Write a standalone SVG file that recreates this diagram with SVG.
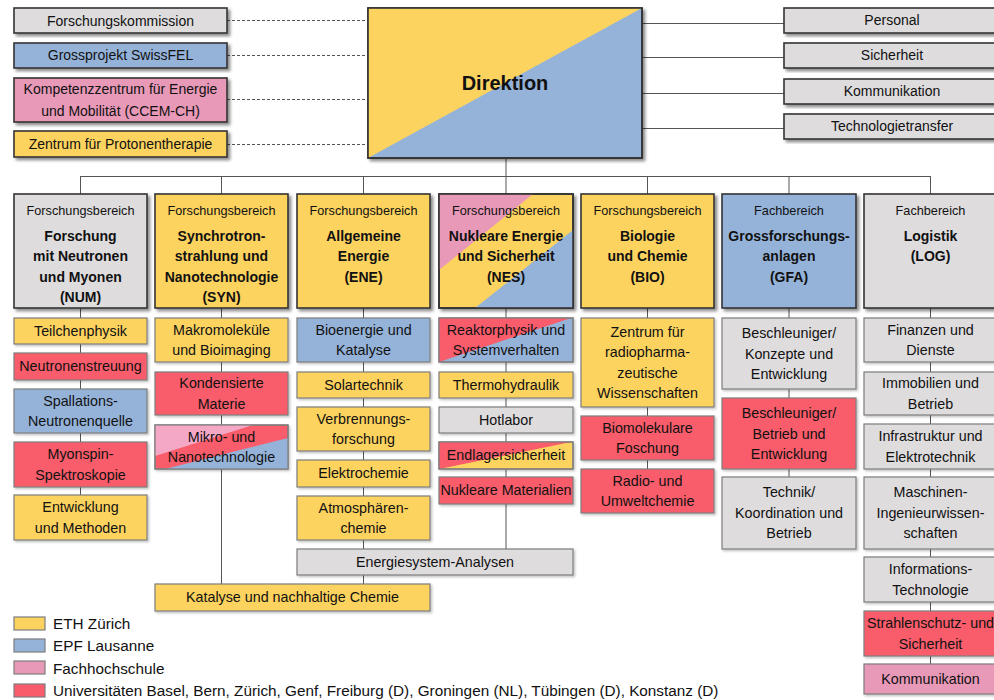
<svg xmlns="http://www.w3.org/2000/svg" width="994" height="700" viewBox="0 0 994 700">
<defs>
<filter id="sh" x="-10%" y="-10%" width="130%" height="130%"><feDropShadow dx="2.5" dy="2.5" stdDeviation="1.5" flood-color="#000" flood-opacity="0.45"/></filter>
<filter id="sh2" x="-10%" y="-10%" width="130%" height="130%"><feDropShadow dx="1.5" dy="1.5" stdDeviation="1" flood-color="#000" flood-opacity="0.25"/></filter>
</defs>
<style>
.ho{fill:none;stroke:#333;stroke-width:1.6}
.so{fill:none;stroke:#7d7d7d;stroke-width:1.2}
.y{fill:#FDD35F}.b{fill:#95B3D9}.p{fill:#E899B8}.lp{fill:#F4A8C6}.r{fill:#F95C6B}.g{fill:#DEDCDD}
.hd{stroke:#333;stroke-width:1.6;filter:url(#sh)}
.sb{stroke:#7d7d7d;stroke-width:1.2;filter:url(#sh2)}
.lb{stroke:#7d7d7d;stroke-width:1.2}
text{font-family:"Liberation Sans",Arial,sans-serif;fill:#111;text-anchor:middle}
.t{font-size:14.3px}
.tt{font-size:14px}
.hs{font-size:12.7px}
.hb{font-size:14px;font-weight:bold}
.lg{font-size:15.3px;text-anchor:start}
.cn{stroke:#555;stroke-width:1;fill:none}
.dc{stroke:#555;stroke-width:1;fill:none;stroke-dasharray:3,2}
</style>

<g id="connectors">
<line class="dc" x1="227" y1="20.5" x2="368" y2="20.5"/>
<line class="dc" x1="227" y1="55.5" x2="368" y2="55.5"/>
<line class="dc" x1="227" y1="99.5" x2="368" y2="99.5"/>
<line class="dc" x1="227" y1="144.5" x2="368" y2="144.5"/>
<line class="cn" x1="642" y1="23.5" x2="784" y2="23.5"/>
<line class="cn" x1="642" y1="57.5" x2="784" y2="57.5"/>
<line class="cn" x1="642" y1="93.5" x2="784" y2="93.5"/>
<line class="cn" x1="642" y1="128.5" x2="784" y2="128.5"/>
<line class="cn" x1="80.5" y1="176.5" x2="930.5" y2="176.5"/>
<line class="cn" x1="80.5" y1="176" x2="80.5" y2="495"/>
<line class="cn" x1="221.5" y1="176" x2="221.5" y2="584"/>
<line class="cn" x1="363.5" y1="176" x2="363.5" y2="584"/>
<line class="cn" x1="506" y1="158" x2="506" y2="549"/>
<line class="cn" x1="647.5" y1="176" x2="647.5" y2="469"/>
<line class="cn" x1="789" y1="176" x2="789" y2="477"/>
<line class="cn" x1="930.5" y1="176" x2="930.5" y2="664"/>
</g>

<g id="forschungskommission"><rect class="g hd" x="14" y="8" width="213" height="25"/><text class="tt" x="120.5" y="25.5">Forschungskommission</text></g>
<g id="swissfel"><rect class="b hd" x="14" y="43" width="213" height="25"/><text class="tt" x="120.5" y="60">Grossprojekt SwissFEL</text></g>
<g id="ccem"><rect class="p hd" x="14" y="78" width="213" height="44"/><text class="tt" x="120.5" y="94">Kompetenzzentrum für Energie</text><text class="tt" x="120.5" y="116">und Mobilität (CCEM-CH)</text></g>
<g id="protonentherapie"><rect class="y hd" x="14" y="131" width="213" height="26"/><text class="tt" x="120.5" y="149">Zentrum für Protonentherapie</text></g>

<g id="direktion">
<rect class="b hd" x="368" y="8" width="274" height="150"/>
<polygon class="y" points="368,8 642,8 368,158"/>
<rect class="ho" x="368" y="8" width="274" height="150"/>
<text x="505" y="90" style="font-size:20px;font-weight:bold">Direktion</text>
</g>

<g id="personal"><rect class="g hd" x="784" y="8" width="216" height="25"/><text class="tt" x="892" y="25">Personal</text></g>
<g id="sicherheit"><rect class="g hd" x="784" y="43" width="216" height="25"/><text class="tt" x="892" y="60">Sicherheit</text></g>
<g id="kommunikation-stab"><rect class="g hd" x="784" y="79" width="216" height="25"/><text class="tt" x="892" y="96">Kommunikation</text></g>
<g id="technologietransfer"><rect class="g hd" x="784" y="114" width="216" height="25"/><text class="tt" x="892" y="131">Technologietransfer</text></g>

<g id="num"><rect class="g hd" x="14" y="194" width="133" height="114"/>
<text class="hs" x="80.5" y="215">Forschungsbereich</text>
<text class="hb" x="80.5" y="240.5">Forschung</text><text class="hb" x="80.5" y="261">mit Neutronen</text><text class="hb" x="80.5" y="281.5">und Myonen</text><text class="hb" x="80.5" y="302">(NUM)</text></g>
<g id="syn"><rect class="y hd" x="155" y="194" width="133" height="114"/>
<text class="hs" x="221.5" y="215">Forschungsbereich</text>
<text class="hb" x="221.5" y="240.5">Synchrotron-</text><text class="hb" x="221.5" y="261">strahlung und</text><text class="hb" x="221.5" y="281.5">Nanotechnologie</text><text class="hb" x="221.5" y="302">(SYN)</text></g>
<g id="ene"><rect class="y hd" x="297" y="194" width="133" height="114"/>
<text class="hs" x="363.5" y="215">Forschungsbereich</text>
<text class="hb" x="363.5" y="240.5">Allgemeine</text><text class="hb" x="363.5" y="261">Energie</text><text class="hb" x="363.5" y="281.5">(ENE)</text></g>
<g id="nes"><rect class="y hd" x="439" y="194" width="134" height="114"/>
<polygon class="p" points="439,194 533,194 439,270"/>
<polygon class="b" points="573,230 573,308 475,308"/>
<rect class="ho" x="439" y="194" width="134" height="114"/>
<text class="hs" x="506" y="215">Forschungsbereich</text>
<text class="hb" x="506" y="240.5">Nukleare Energie</text><text class="hb" x="506" y="261">und Sicherheit</text><text class="hb" x="506" y="281.5">(NES)</text></g>
<g id="bio"><rect class="y hd" x="581" y="194" width="133" height="114"/>
<text class="hs" x="647.5" y="215">Forschungsbereich</text>
<text class="hb" x="647.5" y="240.5">Biologie</text><text class="hb" x="647.5" y="261">und Chemie</text><text class="hb" x="647.5" y="281.5">(BIO)</text></g>
<g id="gfa"><rect class="b hd" x="722" y="194" width="134" height="114"/>
<text class="hs" x="789" y="215">Fachbereich</text>
<text class="hb" x="789" y="240.5">Grossforschungs-</text><text class="hb" x="789" y="261">anlagen</text><text class="hb" x="789" y="281.5">(GFA)</text></g>
<g id="log"><rect class="g hd" x="864" y="194" width="133" height="114"/>
<text class="hs" x="930.5" y="215">Fachbereich</text>
<text class="hb" x="930.5" y="240.5">Logistik</text><text class="hb" x="930.5" y="261">(LOG)</text></g>

<g id="teilchenphysik"><rect class="y sb" x="14" y="318" width="133" height="26"/><text class="t" x="80.5" y="336">Teilchenphysik</text></g>
<g id="neutronenstreuung"><rect class="r sb" x="14" y="353" width="133" height="27"/><text class="t" x="80.5" y="371">Neutronenstreuung</text></g>
<g id="spallation"><rect class="b sb" x="14" y="389" width="133" height="44"/><text class="t" x="80.5" y="405.5">Spallations-</text><text class="t" x="80.5" y="426">Neutronenquelle</text></g>
<g id="myonspin"><rect class="r sb" x="14" y="442" width="133" height="45"/><text class="t" x="80.5" y="459">Myonspin-</text><text class="t" x="80.5" y="479.5">Spektroskopie</text></g>
<g id="entwicklung"><rect class="y sb" x="14" y="495" width="133" height="45"/><text class="t" x="80.5" y="512">Entwicklung</text><text class="t" x="80.5" y="532.5">und Methoden</text></g>

<g id="makromolekuele"><rect class="y sb" x="155" y="318" width="133" height="44"/><text class="t" x="221.5" y="334.5">Makromoleküle</text><text class="t" x="221.5" y="355">und Bioimaging</text></g>
<g id="kondensierte"><rect class="r sb" x="155" y="372" width="133" height="43"/><text class="t" x="221.5" y="388">Kondensierte</text><text class="t" x="221.5" y="408.5">Materie</text></g>
<g id="mikro"><rect class="r sb" x="155" y="425" width="133" height="44"/>
<polygon class="lp" points="155,425 253,425 155,456"/>
<polygon class="b" points="288,438 288,469 165,469"/>
<rect class="so" x="155" y="425" width="133" height="44"/>
<text class="t" x="221.5" y="441.5">Mikro- und</text><text class="t" x="221.5" y="462">Nanotechnologie</text></g>
<g id="katalyse"><rect class="y sb" x="155" y="584" width="275" height="27"/><text class="t" x="292.5" y="602">Katalyse und nachhaltige Chemie</text></g>

<g id="bioenergie"><rect class="b sb" x="297" y="318" width="133" height="44"/><text class="t" x="363.5" y="334.5">Bioenergie und</text><text class="t" x="363.5" y="355">Katalyse</text></g>
<g id="solartechnik"><rect class="y sb" x="297" y="372" width="133" height="26"/><text class="t" x="363.5" y="390">Solartechnik</text></g>
<g id="verbrennung"><rect class="y sb" x="297" y="407" width="133" height="44"/><text class="t" x="363.5" y="423.5">Verbrennungs-</text><text class="t" x="363.5" y="444">forschung</text></g>
<g id="elektrochemie"><rect class="y sb" x="297" y="460" width="133" height="27"/><text class="t" x="363.5" y="478">Elektrochemie</text></g>
<g id="atmosphaere"><rect class="y sb" x="297" y="496" width="133" height="44"/><text class="t" x="363.5" y="512.5">Atmosphären-</text><text class="t" x="363.5" y="533">chemie</text></g>
<g id="energiesystem"><rect class="g sb" x="297" y="549" width="276" height="26"/><text class="t" x="435" y="567">Energiesystem-Analysen</text></g>

<g id="reaktorphysik"><rect class="b sb" x="439" y="318" width="134" height="44"/>
<polygon class="r" points="439,318 571,318 439,362"/>
<rect class="so" x="439" y="318" width="134" height="44"/>
<text class="t" x="506" y="334.5">Reaktorphysik und</text><text class="t" x="506" y="355">Systemverhalten</text></g>
<g id="thermohydraulik"><rect class="y sb" x="439" y="372" width="134" height="26"/><text class="t" x="506" y="390">Thermohydraulik</text></g>
<g id="hotlabor"><rect class="g sb" x="439" y="407" width="134" height="26"/><text class="t" x="506" y="425">Hotlabor</text></g>
<g id="endlager"><rect class="y sb" x="439" y="442" width="134" height="27"/>
<polygon class="r" points="439,442 571,442 439,469"/>
<rect class="so" x="439" y="442" width="134" height="27"/>
<text class="t" x="506" y="460">Endlagersicherheit</text></g>
<g id="nuklearematerialien"><rect class="r sb" x="439" y="477" width="134" height="27"/><text class="t" x="506" y="495">Nukleare Materialien</text></g>

<g id="radiopharma"><rect class="y sb" x="581" y="318" width="133" height="89"/><text class="t" x="647.5" y="336.5">Zentrum für</text><text class="t" x="647.5" y="357">radiopharma-</text><text class="t" x="647.5" y="377.5">zeutische</text><text class="t" x="647.5" y="398">Wissenschaften</text></g>
<g id="biomolekulare"><rect class="r sb" x="581" y="416" width="133" height="44"/><text class="t" x="647.5" y="432.5">Biomolekulare</text><text class="t" x="647.5" y="453">Foschung</text></g>
<g id="umweltchemie"><rect class="r sb" x="581" y="469" width="133" height="44"/><text class="t" x="647.5" y="485.5">Radio- und</text><text class="t" x="647.5" y="506">Umweltchemie</text></g>

<g id="beschl-konzepte"><rect class="g sb" x="722" y="318" width="134" height="71"/><text class="t" x="789" y="338">Beschleuniger/</text><text class="t" x="789" y="358.5">Konzepte und</text><text class="t" x="789" y="379">Entwicklung</text></g>
<g id="beschl-betrieb"><rect class="r sb" x="722" y="398" width="134" height="71"/><text class="t" x="789" y="418">Beschleuniger/</text><text class="t" x="789" y="438.5">Betrieb und</text><text class="t" x="789" y="459">Entwicklung</text></g>
<g id="technik"><rect class="g sb" x="722" y="477" width="134" height="72"/><text class="t" x="789" y="497">Technik/</text><text class="t" x="789" y="517.5">Koordination und</text><text class="t" x="789" y="538">Betrieb</text></g>

<g id="finanzen"><rect class="g sb" x="864" y="318" width="133" height="44"/><text class="t" x="930.5" y="334.5">Finanzen und</text><text class="t" x="930.5" y="355">Dienste</text></g>
<g id="immobilien"><rect class="g sb" x="864" y="372" width="133" height="43"/><text class="t" x="930.5" y="388">Immobilien und</text><text class="t" x="930.5" y="408.5">Betrieb</text></g>
<g id="infrastruktur"><rect class="g sb" x="864" y="424" width="133" height="45"/><text class="t" x="930.5" y="441">Infrastruktur und</text><text class="t" x="930.5" y="461.5">Elektrotechnik</text></g>
<g id="maschinen"><rect class="g sb" x="864" y="477" width="133" height="72"/><text class="t" x="930.5" y="497">Maschinen-</text><text class="t" x="930.5" y="517.5">Ingenieurwissen-</text><text class="t" x="930.5" y="538">schaften</text></g>
<g id="informatik"><rect class="g sb" x="864" y="557" width="133" height="45"/><text class="t" x="930.5" y="574">Informations-</text><text class="t" x="930.5" y="594.5">Technologie</text></g>
<g id="strahlenschutz"><rect class="r sb" x="864" y="611" width="133" height="45"/><text class="t" x="930.5" y="628">Strahlenschutz- und</text><text class="t" x="930.5" y="648.5">Sicherheit</text></g>
<g id="kommunikation-log"><rect class="p sb" x="864" y="664" width="133" height="30"/><text class="t" x="930.5" y="684">Kommunikation</text></g>

<g id="legend">
<rect class="y lb" x="14" y="617" width="31" height="13"/><text class="lg" x="53" y="629">ETH Zürich</text>
<rect class="b lb" x="14" y="639" width="31" height="13"/><text class="lg" x="53" y="651">EPF Lausanne</text>
<rect class="p lb" x="14" y="661" width="31" height="13"/><text class="lg" x="53" y="674">Fachhochschule</text>
<rect class="r lb" x="14" y="684" width="31" height="13"/><text class="lg" x="53" y="696">Universitäten Basel, Bern, Zürich, Genf, Freiburg (D), Groningen (NL), Tübingen (D), Konstanz (D)</text>
</g>
</svg>
